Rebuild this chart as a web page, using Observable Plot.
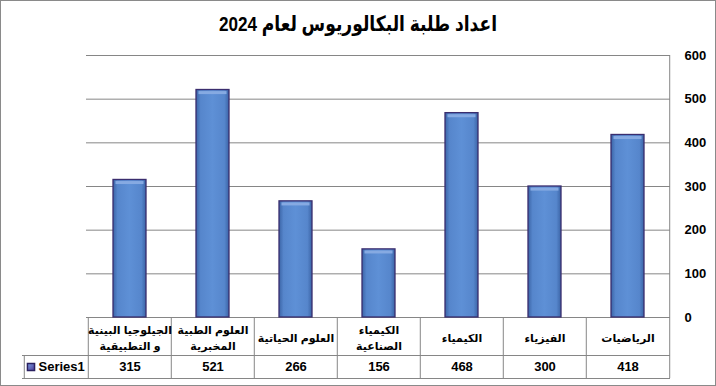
<!DOCTYPE html>
<html><head><meta charset="utf-8">
<script src="https://cdn.jsdelivr.net/npm/d3@7"></script>
<script src="https://cdn.jsdelivr.net/npm/@observablehq/plot@0.6"></script>
<style>
html,body{margin:0;padding:0;background:#fff}
#chart svg{display:block;outline:1px solid #8a8a8a;outline-offset:-1px}
</style></head><body><div id="chart"></div>
<script>
const title = "اعداد طلبة البكالوريوس لعام 2024";
const categories = ["الرياضيات","الفيزياء","الكيمياء","الكيمياء\nالصناعية","العلوم الحياتية","العلوم الطبية\nالمخبرية","الجيلوجيا البينية\nو التطبيقية"];
const values = [418,300,468,156,266,521,315];
const seriesName = "Series1";
const yTicks = [0,100,200,300,400,500,600];

const data = categories.map((c,i)=>({category:c, value:values[i]}));

const W=716, H=386, mL=86, mR=46, mT=55, mB=69;
const bw = (W-mL-mR)/categories.length;
const lineCol = "#868686";
const row1 = 38, row2 = 61; // table row bottoms below the zero line (px)
const ff = "'Liberation Sans', 'DejaVu Sans', sans-serif";

const plot = Plot.plot({
  width: W, height: H,
  marginLeft: mL, marginRight: mR, marginTop: mT, marginBottom: mB,
  style: {fontFamily: ff, fontSize: "13px", color: "black", background: "white"},
  x: {type: "band", domain: categories, reverse: true, padding: 0, axis: null},
  y: {domain: [0, 600], axis: null},
  marks: [
    Plot.ruleY(yTicks, {stroke: lineCol, strokeOpacity: 1}),
    Plot.ruleX([categories[0]], {y1: 600, y2: 0, dx: bw/2, insetBottom: -row2, stroke: lineCol}),
    Plot.ruleX(categories, {y1: 0, y2: 0, dx: -bw/2, insetBottom: -row2, stroke: lineCol}),
    Plot.ruleX([categories[categories.length-1]], {y1: 0, y2: 0, dx: -bw/2 - 64, insetTop: row1, insetBottom: -row2, stroke: lineCol}),
    Plot.ruleY([0], {dy: row1, insetLeft: -64, stroke: lineCol}),
    Plot.ruleY([0], {dy: row2, insetLeft: -64, stroke: lineCol}),
    Plot.barY(data, {x: "category", y: "value", fill: "url(#barGrad)", stroke: "#3a2d6e", strokeWidth: 1.3, insetLeft: 25, insetRight: 25}),
    Plot.tickY(data, {x: "category", y: "value", stroke: "#86aae2", strokeWidth: 3, dy: 2.6, insetLeft: 27.5, insetRight: 27.5}),
    Plot.text(data, {x: "category", text: "category", frameAnchor: "bottom", lineAnchor: "middle", dy: 19, fontWeight: "bold", fontSize: 11, lineHeight: 1.45}),
    Plot.text(data, {x: "category", text: d => String(d.value), frameAnchor: "bottom", lineAnchor: "middle", dy: 49.5, fontWeight: "bold", fontSize: 13}),
    Plot.text([seriesName], {x: null, y: null, frameAnchor: "bottom-left", lineAnchor: "middle", textAnchor: "start", dx: -48, dy: 49.5, fontWeight: "bold", fontSize: 13}),
    Plot.dot([seriesName], {x: null, y: null, frameAnchor: "bottom-left", dx: -55.5, dy: 49.5, symbol: "square", r: 4, fill: "url(#swGrad)", stroke: "#2a2060"}),
    Plot.text([title], {x: null, y: null, frameAnchor: "top", lineAnchor: "middle", dx: -0.5 - 20, dy: -31, fontSize: 21, fontWeight: "bold"}),
    Plot.axisY(yTicks, {anchor: "right", tickSize: 0, tickPadding: 14, fontWeight: "bold", fontSize: 13, label: null, textAnchor: "start"})
  ]
});

const defs = d3.select(plot).insert("defs", ":first-child");
const g = defs.append("linearGradient").attr("id", "barGrad").attr("x1", 0).attr("x2", 1).attr("y1", 0).attr("y2", 0);
[[0,"#3b64a6"],[0.14,"#5686cc"],[0.5,"#5e90d6"],[0.86,"#5686cc"],[1,"#3b64a6"]].forEach(([o,c]) => g.append("stop").attr("offset", o).attr("stop-color", c));
const s = defs.append("linearGradient").attr("id", "swGrad").attr("x1", 0).attr("x2", 1).attr("y1", 0).attr("y2", 1);
[[0,"#7b9de0"],[1,"#4b3a9a"]].forEach(([o,c]) => s.append("stop").attr("offset", o).attr("stop-color", c));

d3.select(plot).selectAll("text").filter(function(){ return this.textContent === title; })
  .attr("textLength", 278).attr("lengthAdjust", "spacingAndGlyphs");

document.getElementById("chart").appendChild(plot);
</script></body></html>
